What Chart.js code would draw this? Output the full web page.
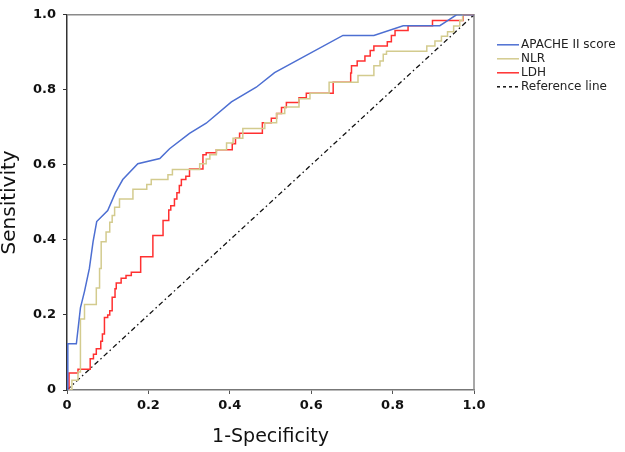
<!DOCTYPE html>
<html>
<head>
<meta charset="utf-8">
<script src="https://cdn.jsdelivr.net/npm/chart.js@4.4.1/dist/chart.umd.min.js"></script>
<style>
    html, body { margin: 0; padding: 0; background: #fff; }
    #wrap { width: 625px; height: 452px; }
</style>
</head>
<body>
<div id="wrap"><canvas id="rocChart" width="625" height="452"></canvas></div>
<script>
// ROC coordinates: x = 1-specificity, y = sensitivity
const apacheFpr = [0, 0.002, 0.023, 0.033, 0.043, 0.055, 0.064, 0.073, 0.100, 0.119, 0.137, 0.174, 0.228, 0.252, 0.301, 0.342, 0.404, 0.465, 0.510, 0.678, 0.754, 0.826, 0.916, 0.939, 0.957, 1];
const apacheTpr = [0, 0.123, 0.123, 0.219, 0.263, 0.324, 0.395, 0.449, 0.478, 0.526, 0.561, 0.603, 0.617, 0.643, 0.684, 0.711, 0.768, 0.807, 0.846, 0.945, 0.945, 0.971, 0.971, 0.987, 1, 1];

// step curves: each point is the top of a riser (horizontal first, then up)
const nlrFpr = [0, 0.012, 0.027, 0.033, 0.043, 0.064, 0.072, 0.080, 0.084, 0.096, 0.105, 0.111, 0.117, 0.129, 0.162, 0.196, 0.207, 0.248, 0.259, 0.326, 0.342, 0.351, 0.367, 0.392, 0.408, 0.432, 0.486, 0.515, 0.535, 0.570, 0.597, 0.644, 0.715, 0.754, 0.769, 0.777, 0.785, 0.884, 0.904, 0.920, 0.935, 0.950, 0.965, 0.972, 1];
const nlrTpr = [0, 0.026, 0.048, 0.189, 0.228, 0.228, 0.272, 0.324, 0.395, 0.421, 0.447, 0.465, 0.487, 0.509, 0.535, 0.548, 0.561, 0.574, 0.588, 0.603, 0.616, 0.627, 0.640, 0.658, 0.671, 0.697, 0.712, 0.737, 0.754, 0.776, 0.791, 0.820, 0.838, 0.864, 0.877, 0.895, 0.903, 0.917, 0.930, 0.943, 0.955, 0.970, 0.985, 1, 1];

const ldhFpr = [0, 0.005, 0.027, 0.057, 0.065, 0.072, 0.083, 0.087, 0.092, 0.100, 0.105, 0.111, 0.118, 0.121, 0.133, 0.145, 0.158, 0.181, 0.211, 0.236, 0.250, 0.255, 0.264, 0.270, 0.276, 0.281, 0.292, 0.301, 0.334, 0.342, 0.367, 0.406, 0.414, 0.424, 0.480, 0.502, 0.515, 0.527, 0.539, 0.570, 0.588, 0.654, 0.697, 0.699, 0.713, 0.732, 0.745, 0.754, 0.787, 0.797, 0.806, 0.838, 0.898, 0.973, 1];
const ldhTpr = [0, 0.045, 0.055, 0.083, 0.095, 0.110, 0.130, 0.149, 0.193, 0.200, 0.211, 0.247, 0.270, 0.285, 0.298, 0.305, 0.314, 0.355, 0.412, 0.452, 0.480, 0.491, 0.509, 0.526, 0.545, 0.561, 0.570, 0.589, 0.627, 0.632, 0.640, 0.656, 0.671, 0.684, 0.712, 0.724, 0.737, 0.753, 0.766, 0.779, 0.791, 0.820, 0.845, 0.864, 0.877, 0.890, 0.905, 0.917, 0.928, 0.945, 0.958, 0.971, 0.985, 1, 1];

const refFpr = [0, 1];
const refTpr = [0, 1];

const seriesLabels = ['APACHE II score', 'NLR', 'LDH', 'Reference line'];

function toPoints(xs, ys) {
    return xs.map((x, i) => ({ x: x, y: ys[i] }));
}

function tickLabel(value) {
    return value === 0 ? '0' : value.toFixed(1);
}

// gray frame on the top and right of the plot box
const framePlugin = {
    id: 'frame',
    beforeDatasetsDraw(chart) {
        const { ctx, chartArea: a } = chart;
        ctx.save();
        ctx.strokeStyle = '#8a8a8a';
        ctx.lineWidth = 1.5;
        ctx.beginPath();
        ctx.moveTo(a.left, a.top);
        ctx.lineTo(a.right, a.top);
        ctx.lineTo(a.right, a.bottom);
        ctx.stroke();
        ctx.restore();
    }
};

// legend to the right of the plot, line samples + labels
const sideLegend = {
    id: 'sideLegend',
    afterDraw(chart) {
        const { ctx, chartArea: a } = chart;
        const x0 = a.right + 23;
        ctx.save();
        ctx.font = '12px "DejaVu Sans"';
        ctx.textBaseline = 'middle';
        chart.data.datasets.forEach((ds, i) => {
            const y = a.top + 30 + i * 14;
            ctx.beginPath();
            ctx.strokeStyle = ds.borderColor;
            ctx.lineWidth = 1.5;
            ctx.setLineDash(ds.borderDash ? [3, 3] : []);
            ctx.moveTo(x0, y);
            ctx.lineTo(x0 + 22, y);
            ctx.stroke();
            ctx.setLineDash([]);
            ctx.fillStyle = '#222';
            ctx.fillText(ds.label, x0 + 24, y);
        });
        ctx.restore();
    }
};

const ctx = document.getElementById('rocChart').getContext('2d');
new Chart(ctx, {
    type: 'line',
    data: {
        datasets: [
            {
                label: seriesLabels[0],
                data: toPoints(apacheFpr, apacheTpr),
                borderColor: '#4d6fd2',
                borderWidth: 1.5,
                pointRadius: 0,
                tension: 0
            },
            {
                label: seriesLabels[1],
                data: toPoints(nlrFpr, nlrTpr),
                borderColor: '#d3cb8e',
                borderWidth: 1.5,
                pointRadius: 0,
                stepped: 'before'
            },
            {
                label: seriesLabels[2],
                data: toPoints(ldhFpr, ldhTpr),
                borderColor: '#ff3030',
                borderWidth: 1.5,
                pointRadius: 0,
                stepped: 'before'
            },
            {
                label: seriesLabels[3],
                data: toPoints(refFpr, refTpr),
                borderColor: '#111',
                borderWidth: 1.3,
                borderDash: [5, 3, 1.5, 3],
                pointRadius: 0
            }
        ]
    },
    options: {
        responsive: false,
        animation: false,
        layout: {
            padding: { top: 10, right: 151, bottom: 0, left: 0 }
        },
        scales: {
            x: {
                type: 'linear',
                min: 0,
                max: 1,
                afterFit: function(scale) { scale.height = 62; },
                ticks: {
                    stepSize: 0.2,
                    padding: 4,
                    color: '#111',
                    font: { family: 'DejaVu Sans', size: 13, weight: 'bold' },
                    callback: tickLabel
                },
                grid: { drawOnChartArea: false, drawTicks: true, tickLength: 4, color: '#555' },
                border: { color: '#777', width: 1.5 },
                title: {
                    display: true,
                    text: '1-Specificity',
                    color: '#111',
                    font: { family: 'DejaVu Sans', size: 19, lineHeight: 1 },
                    padding: { top: 0, bottom: 5 }
                }
            },
            y: {
                type: 'linear',
                min: 0,
                max: 1,
                afterFit: function(scale) { scale.width = 67; },
                ticks: {
                    stepSize: 0.2,
                    padding: 7,
                    color: '#111',
                    font: { family: 'DejaVu Sans', size: 13, weight: 'bold' },
                    callback: tickLabel
                },
                grid: { drawOnChartArea: false, drawTicks: true, tickLength: 4, color: '#333' },
                border: { color: '#333', width: 1.5 },
                title: {
                    display: true,
                    text: 'Sensitivity',
                    color: '#111',
                    font: { family: 'DejaVu Sans', size: 20, lineHeight: 1 },
                    padding: { top: 0, bottom: 0 }
                }
            }
        },
        plugins: {
            legend: { display: false },
            tooltip: { enabled: false }
        }
    },
    plugins: [framePlugin, sideLegend]
});
</script>
</body>
</html>
